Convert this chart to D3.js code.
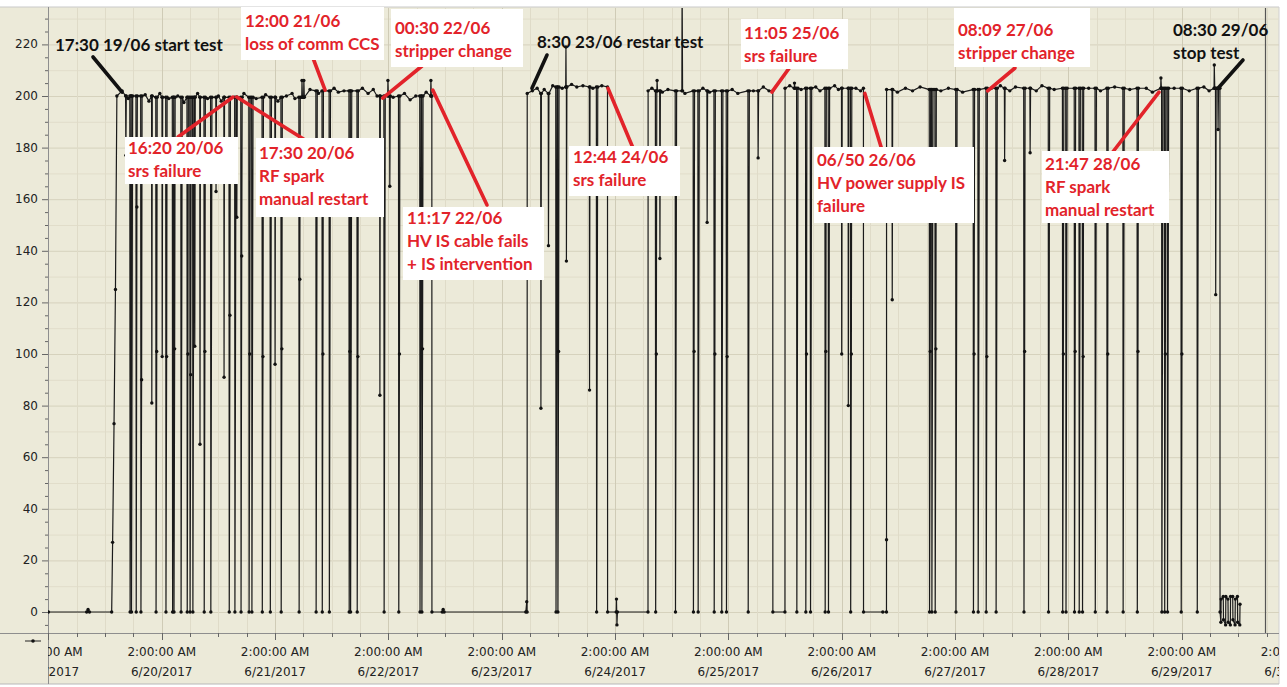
<!DOCTYPE html>
<html>
<head>
<meta charset="utf-8">
<script src="https://cdn.jsdelivr.net/npm/d3@7"></script>
<style>
  body { margin: 0; background: #fff; }
  svg { display: block; }
  .tick-label { font-family: "DejaVu Sans", sans-serif; font-size: 12px; fill: #222; }
  .note { font-family: Lato, "Open Sans", sans-serif; font-weight: 700; font-size: 17px; }
</style>
</head>
<body>
<script>
// all times are hours after 19/06/2017 00:00
var startHour  = [2, 10.1, 10.4, 10.7, 15.4, 15.6, 15.9, 16.2];
var startValue = [0, 0, 1, 0, 0, 27, 73, 125];

var runStart = [16.5, 103.4, 129.0, 158.0, 179.5];
var runEnd   = [83.2, 120.4, 155.4, 174.6, 250.1];

var levelHour  = [16.5, 24, 57, 72, 103.4, 108, 129, 158, 179.5, 200];
var levelValue = [200, 199.5, 202, 200, 201, 203.5, 202, 203, 202.5, 203];

// plateau samples between the trips
var platHour = [17.6, 18.9, 22.5, 23.3, 25.6, 27.5, 29.4, 30.7, 33.6, 35.7, 38.0, 38.6, 43.4, 46.0, 48.0, 50.6,
  52.4, 53.6, 54.2, 57.4, 59.2, 62.5, 63.4, 64.6, 68.5, 69.7, 70.8, 71.6, 75.0, 77.4, 78.6, 79.8, 82.0,
  104.5, 105.5, 107.0, 108.8, 110.8, 112.8, 113.9, 115.2, 117.3, 119.2,
  129.8, 132.0, 133.2, 136.8, 140.6, 142.0, 146.8, 148.0, 151.3, 153.4, 154.6,
  159.0, 161.4, 164.5, 165.4, 168.5, 169.3, 173.0, 174.0,
  181.8, 183.5, 185.0, 186.6, 191.0, 192.6, 195.6, 201.7, 203.6, 205.6, 206.8, 211.2, 212.4, 215.0,
  222.3, 224.8, 227.8, 231.0, 234.5, 235.8, 240.4, 243.6, 246.7, 247.8];
var platValue = [202, 199, 200.5, 198, 201, 199, 200, 197.5, 201, 199, 200, 198, 201, 199, 200.5, 198,
  200, 201, 199, 202.5, 201, 203, 201.5, 202, 203, 201, 202.5, 200, 199.5, 201, 198.5, 200, 201.5,
  202, 203, 202.5, 204, 203, 204.5, 203.5, 204, 203, 204,
  203, 201.5, 202.5, 201, 203, 201.5, 202.5, 201, 202, 203.5, 202,
  204, 202.5, 203.5, 202, 204, 202.5, 203, 202,
  201.5, 203, 202, 203.5, 202, 203, 201.5, 203, 204, 202, 203.5, 202, 204, 202.5,
  203, 202, 203.5, 202.5, 203, 201.5, 203, 202, 203.5, 202];

// drops to zero, and the sample seen on the way back up (null = none)
var tripHour = [19.3, 19.6, 20.6, 21.6, 24.8, 26.9, 28.3, 28.6, 30.1, 31.4, 32.0, 32.6, 35.0, 36.4, 40.3, 41.5, 42.8,
  44.5, 45.1, 47.3, 49.0, 51.3, 55.1, 58.7, 60.0, 61.5, 65.7, 66.0, 67.4, 73.1, 76.2, 80.7, 81.1,
  109.5, 109.9, 118.1,
  130.6, 134.8, 138.6, 139.6, 143.0, 144.6, 145.6, 150.2,
  160.5, 162.4, 163.4, 166.5, 167.2, 171.9,
  188.6, 189.1, 189.8, 194.2, 197.9, 198.9, 200.6, 202.7, 208.6, 213.8, 216.8, 217.5, 219.3, 220.3, 221.0,
  223.7, 226.2, 229.6, 232.6, 237.8, 238.4, 239.0, 241.9, 245.3];
var tripRecover = [null, null, 157, 90, 101, 99, null, 102, null, 100, 92, null, 101, null, 115, null, 138,
  100, null, 99, null, 102, 129, null, 100, null, 101, null, 99, null, 100, null, 102,
  null, 101, null,
  100, null, 101, null, 100, null, 99, null,
  null, 100, null, 101, null, 100,
  101, null, 102, null, 100, null, 99, null, 101, null, 100, null, 101, null, 99,
  null, 100, null, 101, null, 100, null, 100, null];

// partial dips that stay above zero
var dipHour  = [18.4, 23.9, 26.1, 33.0, 34.1, 37.5, 39.2, 41.9, 50.0, 72.2, 74.3,
  106.3, 107.9, 111.7, 116.6, 131.5, 141.5, 152.3, 170.0, 171.4, 180.7, 204.5, 209.9, 249.2, 249.7];
var dipValue = [177, 81, 99, 103, 65, 163, 91, 153, 96, 84, 165,
  79, 142, 136, 86, 137, 151, 176, 100, 80, 121, 175, 178, 123, 187];

// short upward spikes
var spikeHour  = [55.7, 56.1, 73.9, 83.0, 111.6, 130.9, 136.2, 160.0, 237.6, 248.9];
var spikeValue = [206, 206, 206, 206, 219, 206, 245, 205, 207, 212];

// samples while the beam is off
var offHour  = [85.4, 85.6, 85.8, 103.1, 103.3, 122.25, 122.3, 122.4, 122.5, 178.7, 179.49];
var offValue = [0, 1, 0, 0, 4, 0, 5, -5, 0, 0, 28];

// after the stop
var endHour  = [250.3, 250.35, 250.8, 250.85, 251.3, 251.35, 251.8, 251.85, 252.3, 252.35,
  252.8, 252.85, 253.3, 253.35, 253.8, 253.85, 254.3, 254.35];
var endValue = [-4, 5, 6, -3, -5, 6, 5, -4, -5, 6, 6, -3, -5, 5, 6, -4, -5, 3];

var yTicks = [0, 20, 40, 60, 80, 100, 120, 140, 160, 180, 200, 220];

var notes = [
  {lines: ["17:30 19/06 start test"], red: false, tx: 55, ty: 51, from: [93, 57], tip: [17.6, 201.5]},
  {lines: ["12:00 21/06", "loss of comm CCS"], red: true, box: [241, 7, 143, 53], tx: 245, ty: 27, from: [313, 58], tip: [60.6, 202.3]},
  {lines: ["00:30 22/06", "stripper change"], red: true, box: [391, 9, 132, 58], tx: 395, ty: 34, from: [422, 66], tip: [72.8, 199.2]},
  {lines: ["8:30 23/06 restar test"], red: false, tx: 537, ty: 48, from: [547, 55], tip: [104.4, 203]},
  {lines: ["11:05 25/06", "srs failure"], red: true, box: [741, 19, 107, 50], tx: 744, ty: 39, from: [790, 67], tip: [155.2, 201.5]},
  {lines: ["08:09 27/06", "stripper change"], red: true, box: [954, 8, 136, 59], tx: 958, ty: 36, from: [1015, 68], tip: [200.9, 202]},
  {lines: ["08:30 29/06", "stop test"], red: false, tx: 1173, ty: 36, from: [1243, 60], tip: [249.7, 203]},
  {lines: ["16:20 20/06", "srs failure"], red: true, box: [125, 137, 113, 47], tx: 128, ty: 154, from: [178, 137], tip: [41.1, 199.6]},
  {lines: ["17:30 20/06", "RF spark", "manual restart"], red: true, box: [256, 138, 128, 79], tx: 259, ty: 159, from: [305, 140], tip: [41.9, 199.6]},
  {lines: ["11:17 22/06", "HV IS cable fails", "+ IS intervention"], red: true, box: [403, 207, 141, 73], tx: 407, ty: 224, from: [487, 205], tip: [83.4, 202.3]},
  {lines: ["12:44 24/06", "srs failure"], red: true, box: [569, 146, 111, 50], tx: 573, ty: 163, from: [633, 148], tip: [120.5, 203]},
  {lines: ["06/50 26/06", "HV power supply IS", "failure"], red: true, box: [814, 147, 160, 76], tx: 817, ty: 166, from: [882, 150], tip: [174.9, 201]},
  {lines: ["21:47 28/06", "RF spark", "manual restart"], red: true, box: [1042, 151, 127, 72], tx: 1045, ty: 170, from: [1112, 153], tip: [237.2, 201.5]}
];

var W = 1287, H = 687;
var left = 48, right = 1279, plotTop = 7, axisY = 633, bottom = 684;
var t0 = new Date(2017, 5, 19, 0, 0);
function at(h) { return new Date(t0.getTime() + h * 3600e3); }

var x = d3.scaleTime()
  .domain([new Date(2017, 5, 19, 2), new Date(2017, 5, 29, 2)])
  .range([48.4, 1181.7]);
var y = d3.scaleLinear().domain([0, 200]).range([612, 96]);

function levelAt(h) {
  var v = levelValue[0];
  for (var i = 0; i < levelHour.length; i++) if (levelHour[i] <= h) v = levelValue[i];
  return v;
}

// build the sample series
var pts = [];
startHour.forEach(function(h, i) { pts.push([h, startValue[i]]); });
runStart.forEach(function(h, i) {
  if (i > 0) pts.push([h - 0.02, 0]);
  pts.push([h, levelAt(h)]);
  pts.push([runEnd[i], levelAt(runEnd[i])]);
  pts.push([runEnd[i] + 0.02, 0]);
});
platHour.forEach(function(h, i) { pts.push([h, platValue[i]]); });
tripHour.forEach(function(h, i) {
  var L = levelAt(h);
  pts.push([h - 0.06, L]);
  pts.push([h, 0]);
  if (tripRecover[i] != null) pts.push([h + 0.14, tripRecover[i]]);
  pts.push([h + 0.24, L]);
});
dipHour.forEach(function(h, i) {
  var L = levelAt(h);
  pts.push([h - 0.05, L]);
  pts.push([h, dipValue[i]]);
  pts.push([h + 0.1, L]);
});
spikeHour.forEach(function(h, i) {
  var L = levelAt(h);
  pts.push([h - 0.05, L]);
  pts.push([h, spikeValue[i]]);
  pts.push([h + 0.1, L]);
});
offHour.forEach(function(h, i) { pts.push([h, offValue[i]]); });
endHour.forEach(function(h, i) { pts.push([h, endValue[i]]); });
pts.sort(function(a, b) { return a[0] - b[0]; });

var svg = d3.select("body").append("svg").attr("width", W).attr("height", H);

svg.append("rect").attr("x", 0).attr("y", plotTop).attr("width", right).attr("height", bottom - plotTop)
  .attr("fill", "#ecead9");
svg.append("line").attr("x1", 0).attr("x2", right).attr("y1", plotTop).attr("y2", plotTop)
  .attr("stroke", "#c9c9c9");
svg.append("line").attr("x1", right).attr("x2", right).attr("y1", plotTop).attr("y2", bottom)
  .attr("stroke", "#d0d0d0");
svg.append("line").attr("x1", 0).attr("x2", right).attr("y1", bottom).attr("y2", bottom)
  .attr("stroke", "#b8b8b8");

var defs = svg.append("defs");
defs.append("clipPath").attr("id", "plot")
  .append("rect").attr("x", left).attr("y", plotTop + 1).attr("width", right - left).attr("height", axisY - plotTop - 1);
defs.append("clipPath").attr("id", "labels")
  .append("rect").attr("x", left).attr("y", axisY).attr("width", right - left).attr("height", bottom - axisY);

// grid
var hours = d3.timeHour.range(new Date(2017, 5, 19, 2), new Date(2017, 5, 30, 3), 6);
var grid = svg.append("g").attr("clip-path", "url(#plot)");
grid.selectAll(".hg").data(d3.range(-10, 240, 10)).enter().append("line")
  .attr("x1", left).attr("x2", right)
  .attr("y1", function(d) { return y(d) + 0.5; }).attr("y2", function(d) { return y(d) + 0.5; })
  .attr("stroke", function(d) { return d % 20 === 0 ? "#d6d2bd" : "#e1ddca"; });
grid.selectAll(".vg").data(hours).enter().append("line")
  .attr("x1", function(d) { return Math.round(x(d)) + 0.5; }).attr("x2", function(d) { return Math.round(x(d)) + 0.5; })
  .attr("y1", plotTop).attr("y2", axisY)
  .attr("stroke", function(d) { return d.getHours() === 2 ? "#cfcbb6" : "#dfdbc8"; });

// axes
svg.append("line").attr("x1", 0).attr("x2", right).attr("y1", axisY + 0.5).attr("y2", axisY + 0.5)
  .attr("stroke", "#8e8e8e");
svg.append("line").attr("x1", left + 0.5).attr("x2", left + 0.5).attr("y1", plotTop).attr("y2", bottom)
  .attr("stroke", "#8e8e8e");

svg.selectAll(".ymin").data(d3.range(-5, 235, 5)).enter().append("line")
  .attr("x1", function(d) { return d % 20 === 0 ? left - 6 : left - 3; }).attr("x2", left)
  .attr("y1", function(d) { return y(d) + 0.5; }).attr("y2", function(d) { return y(d) + 0.5; })
  .attr("stroke", "#666");
svg.selectAll(".ylab").data(yTicks).enter().append("text")
  .attr("class", "tick-label").attr("x", left - 10).attr("y", function(d) { return y(d) + 4; })
  .attr("text-anchor", "end").text(function(d) { return d; });

svg.selectAll(".xt").data(hours).enter().append("line")
  .attr("x1", function(d) { return Math.round(x(d)) + 0.5; }).attr("x2", function(d) { return Math.round(x(d)) + 0.5; })
  .attr("y1", axisY).attr("y2", function(d) { return d.getHours() === 2 ? axisY + 7 : axisY + 4; })
  .attr("stroke", "#666").attr("clip-path", "url(#labels)");

var fTime = d3.timeFormat("%-I:%M:%S %p"), fDate = d3.timeFormat("%-m/%-d/%Y");
var xl = svg.append("g").attr("clip-path", "url(#labels)").selectAll("text")
  .data(hours.filter(function(d) { return d.getHours() === 2; })).enter().append("text")
  .attr("class", "tick-label").attr("text-anchor", "middle")
  .attr("transform", function(d) { return "translate(" + x(d) + ",0)"; });
xl.append("tspan").attr("x", 0).attr("y", 656).text(fTime);
xl.append("tspan").attr("x", 0).attr("y", 676).text(fDate);

// legend glyph
svg.append("line").attr("x1", 25).attr("x2", 41).attr("y1", 641).attr("y2", 641).attr("stroke", "#222");
svg.append("circle").attr("cx", 33).attr("cy", 641).attr("r", 1.8).attr("fill", "#111");

// data
var plot = svg.append("g").attr("clip-path", "url(#plot)");
var line = d3.line()
  .x(function(d) { return x(at(d[0])); })
  .y(function(d) { return y(d[1]); });
plot.append("path").datum(pts).attr("d", line)
  .attr("fill", "none").attr("stroke", "#1b1b1b").attr("stroke-width", 1.2);
plot.selectAll("circle").data(pts).enter().append("circle")
  .attr("cx", function(d) { return x(at(d[0])); }).attr("cy", function(d) { return y(d[1]); })
  .attr("r", 1.7).attr("fill", "#111");

// marker line near the right edge
svg.append("line").attr("x1", 1265.5).attr("x2", 1265.5).attr("y1", plotTop + 1).attr("y2", axisY)
  .attr("stroke", "#555").attr("stroke-width", 1.2);

// annotations
var red = "#e2232a";
var ann = svg.append("g");
notes.forEach(function(n) {
  var c = n.red ? red : "#111";
  ann.append("line")
    .attr("x1", n.from[0]).attr("y1", n.from[1])
    .attr("x2", x(at(n.tip[0]))).attr("y2", y(n.tip[1]))
    .attr("stroke", c).attr("stroke-width", 3.6).attr("stroke-linecap", "round");
  if (n.box) {
    ann.append("rect").attr("x", n.box[0]).attr("y", n.box[1]).attr("width", n.box[2]).attr("height", n.box[3])
      .attr("fill", "#fff");
  }
  n.lines.forEach(function(s, i) {
    ann.append("text").attr("class", "note").attr("x", n.tx).attr("y", n.ty + i * 23)
      .attr("fill", c).text(s);
  });
});
</script>
</body>
</html>
